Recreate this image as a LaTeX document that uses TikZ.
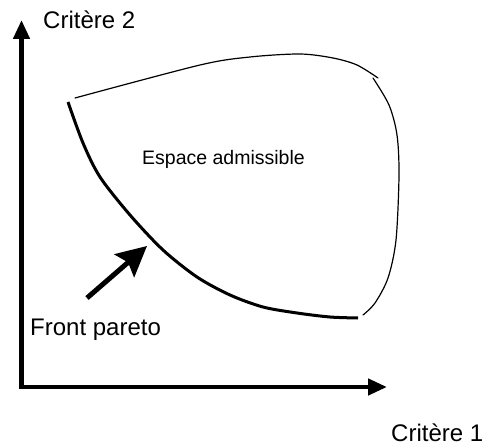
\documentclass[tikz,border=0pt]{standalone}
\usepackage{fontspec}
\setmainfont{Liberation Sans}
\usetikzlibrary{arrows.meta,positioning}
\tikzset{
  axisline/.style={line width=4.5pt, line join=miter,
    {Triangle[length=19pt,width=16pt]}-{Triangle[length=19pt,width=16pt]}},
  paretoline/.style={line width=3pt},
  borderline/.style={line width=1.2pt, line cap=round},
  pointer/.style={line width=5pt, -{Stealth[length=30pt,width=30pt,inset=5pt]}},
  axislabel/.style={anchor=base west, inner sep=0pt,
    font=\fontsize{24}{29}\selectfont},
  zonelabel/.style={anchor=base west, inner sep=0pt,
    font=\fontsize{19.5}{23}\selectfont},
}
\begin{document}
\begin{tikzpicture}[x=1pt, y=-1pt]
  \useasboundingbox (0,0) rectangle (486,446);
  % axes
  \coordinate (origin) at (21.5,387);
  \coordinate (ytop) at (21.5,20);
  \coordinate (xend) at (387,387);
  \draw[axisline] (ytop) -- (origin) -- (xend);
  \node[axislabel] (ylabel) at (43,29) {Critère 2};
  \node[axislabel] (xlabel) at (391,441) {Critère 1};

  % espace admissible
  \draw[borderline] plot[smooth] coordinates {(75,98) (200,65) (250,57) (300,54) (333,58) (357,65) (378,78)};
  \draw[borderline] plot[smooth] coordinates {(373,78) (389,105) (397,135) (399,175) (396,240) (388,278) (375,303) (363,315)};
  \draw[paretoline] plot[smooth] coordinates {(68,102) (83,143) (100,177) (130,215) (163,250) (197,277) (230,295) (263,307) (297,313) (330,317) (358,318)};
  \node[zonelabel] (espace) at (142,165) {Espace admissible};

  % front pareto
  \node[axislabel] (frontlabel) at (30,335) {Front pareto};
  \coordinate (ptail) at (87,298);
  \coordinate (ptip) at (147,246);
  \draw[pointer] (ptail) -- (ptip);
\end{tikzpicture}
\end{document}
